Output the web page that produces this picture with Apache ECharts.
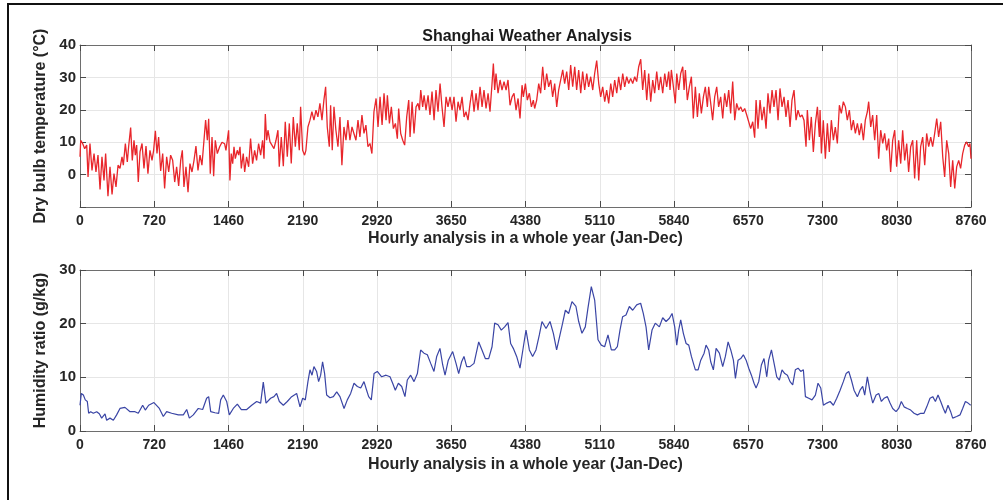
<!DOCTYPE html>
<html>
<head>
<meta charset="utf-8">
<script src="https://cdn.jsdelivr.net/npm/echarts@6/dist/echarts.min.js"></script>
<style>
html,body{margin:0;padding:0;background:#fff;}
#chart{width:1003px;height:500px;}
</style>
</head>
<body>
<div id="chart"></div>
<script>
// ---- Data ----
var xTickLabels = ['0','720','1460','2190','2920','3650','4380','5110','5840','6570','7300','8030','8760'];
var tempTickLabels = ['', '0', '10', '20', '30', '40'];
var humTickLabels = ['0', '10', '20', '30'];

// Dry bulb temperature (°C): [hour, value]
var tempPoints = [
[0,5.5],[7,10.6],[26,9.6],[46,8.0],[66,9.1],[79,-0.7],[98,9.6],[118,1.3],[138,6.5],[157,0.8],
[177,6.0],[197,-4.6],[216,5.5],[236,-1.8],[252,6.5],[275,-6.7],[295,2.4],[315,-6.1],[334,0.3],[354,-3.8],
[374,2.9],[393,1.9],[413,5.5],[426,2.9],[446,9.6],[465,3.9],[478,8.6],[498,14.5],[514,4.4],[531,10.6],
[544,6.0],[557,9.1],[573,-2.3],[590,7.0],[610,9.6],[629,1.9],[649,8.8],[668,0.3],[688,7.5],[708,4.4],
[724,7.5],[741,13.5],[757,6.5],[773,11.6],[793,1.1],[813,6.5],[832,-4.3],[852,5.5],[872,0.8],[891,6.0],
[911,4.4],[931,-2.3],[950,2.4],[970,-3.5],[990,4.4],[1006,7.5],[1022,-3.8],[1042,2.4],[1062,-5.4],[1081,3.4],
[1101,0.8],[1121,4.4],[1140,8.8],[1160,1.3],[1180,6.0],[1199,2.9],[1219,10.6],[1235,16.8],[1252,10.6],[1265,17.2],
[1281,0.3],[1298,11.6],[1314,-0.5],[1330,10.6],[1350,6.5],[1373,8.6],[1396,10.0],[1422,9.5],[1435,7.5],[1448,10.6],
[1461,13.7],[1474,-1.8],[1487,6.5],[1501,3.4],[1514,8.6],[1527,4.9],[1546,7.5],[1560,6.0],[1573,8.6],[1586,1.9],
[1605,6.5],[1619,0.8],[1638,5.5],[1658,2.4],[1677,11.1],[1697,3.4],[1717,7.5],[1736,4.4],[1756,9.6],[1776,6.0],
[1795,10.6],[1809,4.9],[1822,18.7],[1835,10.6],[1848,13.7],[1868,10.1],[1887,9.6],[1907,8.0],[1927,10.6],[1946,13.7],
[1959,2.4],[1979,11.6],[1999,2.6],[2018,16.3],[2038,5.5],[2058,15.8],[2077,3.4],[2097,17.8],[2117,8.6],[2136,15.8],
[2156,7.5],[2169,20.9],[2189,7.5],[2208,6.0],[2221,7.5],[2241,14.7],[2261,16.8],[2280,19.4],[2300,16.8],[2320,19.9],
[2339,17.8],[2359,22.0],[2379,16.8],[2398,23.0],[2415,27.1],[2431,14.7],[2451,8.6],[2464,21.4],[2480,7.5],[2497,20.9],
[2516,13.7],[2536,8.6],[2556,17.8],[2575,2.9],[2595,14.7],[2615,10.6],[2634,16.8],[2654,10.6],[2674,14.7],[2693,12.7],
[2713,10.6],[2733,16.8],[2752,11.6],[2772,18.4],[2792,12.7],[2811,15.3],[2831,8.6],[2851,9.6],[2870,6.5],[2890,19.4],
[2911,23.5],[2930,14.7],[2950,24.0],[2970,15.3],[2989,25.1],[3009,16.8],[3022,24.5],[3042,15.8],[3061,20.9],[3081,14.2],
[3101,15.8],[3120,11.1],[3133,20.4],[3153,12.7],[3173,10.6],[3192,9.1],[3212,17.8],[3232,23.0],[3245,11.6],[3265,22.5],
[3284,12.7],[3304,20.9],[3323,22.0],[3337,19.9],[3350,26.1],[3369,20.9],[3383,24.5],[3402,19.9],[3422,24.5],[3441,18.4],
[3461,25.6],[3481,16.8],[3500,26.1],[3520,19.4],[3540,28.1],[3559,20.9],[3579,14.7],[3599,24.0],[3618,20.9],[3638,24.0],
[3658,19.9],[3677,24.0],[3697,16.3],[3717,22.5],[3736,19.9],[3756,24.0],[3776,17.8],[3795,19.4],[3815,16.8],[3835,22.0],
[3854,26.1],[3874,19.4],[3894,25.1],[3913,19.9],[3933,27.1],[3953,20.9],[3972,26.1],[3992,20.4],[4012,25.1],[4031,19.4],
[4051,28.1],[4064,34.3],[4077,26.1],[4090,31.2],[4110,25.1],[4130,29.2],[4149,26.1],[4169,28.7],[4189,26.1],[4208,29.2],
[4228,21.4],[4248,24.0],[4267,25.1],[4287,19.9],[4307,23.5],[4326,17.3],[4346,27.6],[4359,24.0],[4379,28.1],[4398,23.0],
[4418,25.1],[4438,20.9],[4457,23.0],[4470,20.4],[4490,23.0],[4510,28.1],[4529,25.1],[4549,33.3],[4569,26.1],[4588,31.2],
[4608,27.1],[4628,29.2],[4647,24.0],[4667,28.1],[4687,20.9],[4706,26.1],[4726,29.2],[4746,32.3],[4765,28.1],[4785,31.8],
[4805,26.1],[4824,33.8],[4844,27.1],[4864,33.3],[4883,26.1],[4903,32.3],[4923,25.1],[4942,31.8],[4962,26.1],[4982,31.2],
[5001,27.1],[5021,30.2],[5041,26.1],[5060,31.2],[5080,35.2],[5100,28.1],[5119,24.0],[5139,27.1],[5159,22.5],[5178,26.1],
[5198,22.0],[5218,28.1],[5237,24.0],[5257,29.2],[5277,25.1],[5296,30.2],[5316,26.1],[5336,31.2],[5355,27.1],[5375,30.2],
[5395,28.1],[5414,29.7],[5434,28.1],[5454,30.2],[5473,28.7],[5493,33.3],[5513,35.6],[5532,26.1],[5552,32.3],[5572,23.0],
[5591,31.2],[5611,22.5],[5631,29.2],[5650,25.1],[5670,31.8],[5690,26.1],[5709,30.2],[5729,25.1],[5749,31.2],[5768,27.1],
[5788,31.8],[5801,26.1],[5814,32.3],[5834,27.1],[5853,22.0],[5867,31.2],[5886,26.1],[5906,31.2],[5926,33.3],[5939,26.1],
[5952,32.3],[5971,23.0],[5991,27.1],[6011,30.2],[6030,17.3],[6050,27.1],[6070,17.8],[6089,25.1],[6109,18.9],[6129,24.0],
[6148,27.1],[6168,20.9],[6181,27.1],[6201,22.0],[6220,16.8],[6240,24.0],[6260,27.1],[6279,20.9],[6299,24.0],[6319,17.3],
[6338,25.1],[6358,20.9],[6378,26.1],[6397,18.9],[6417,28.7],[6437,16.8],[6456,22.0],[6476,19.9],[6496,20.9],[6515,19.4],
[6535,20.4],[6555,18.4],[6574,17.8],[6594,14.2],[6614,16.3],[6633,11.4],[6647,23.0],[6666,14.2],[6686,23.0],[6705,16.8],
[6725,20.9],[6745,14.2],[6764,25.1],[6784,18.9],[6804,26.1],[6823,20.9],[6843,26.1],[6863,16.8],[6882,26.6],[6902,20.9],
[6922,24.0],[6941,17.8],[6961,23.0],[6981,14.7],[7000,23.0],[7020,26.1],[7040,16.8],[7059,19.9],[7079,17.8],[7099,18.4],
[7118,16.8],[7138,8.6],[7151,19.9],[7171,10.6],[7190,17.8],[7210,7.0],[7230,15.8],[7250,20.9],[7269,11.6],[7276,19.9],
[7289,6.5],[7308,16.8],[7328,4.9],[7348,15.8],[7367,7.0],[7387,16.8],[7407,10.6],[7426,14.7],[7446,9.6],[7466,21.4],
[7485,18.9],[7505,22.5],[7525,20.9],[7544,16.8],[7564,19.9],[7584,13.7],[7603,16.8],[7623,12.7],[7643,15.8],[7662,12.2],
[7682,15.8],[7702,10.6],[7721,16.8],[7741,19.4],[7754,22.5],[7774,14.7],[7793,18.4],[7813,10.6],[7833,18.4],[7852,4.9],
[7872,13.7],[7892,9.6],[7911,12.7],[7931,7.5],[7951,11.1],[7970,0.8],[7990,10.6],[8010,13.7],[8029,2.4],[8049,10.6],
[8069,3.4],[8088,13.7],[8108,4.4],[8128,9.6],[8147,0.8],[8167,8.6],[8187,10.6],[8206,-1.2],[8226,10.6],[8246,-1.8],
[8265,8.6],[8285,11.6],[8305,2.9],[8324,12.7],[8344,8.6],[8364,11.6],[8383,8.6],[8403,12.7],[8423,17.3],[8442,11.6],
[8462,16.3],[8482,5.5],[8501,-0.7],[8521,10.6],[8541,6.5],[8560,-3.8],[8580,4.4],[8600,-4.3],[8619,2.4],[8639,4.4],
[8658,1.9],[8678,6.5],[8698,9.1],[8717,10.1],[8737,8.6],[8750,9.6],[8760,4.9]
];

// Humidity ratio (g/kg): [hour, value]
var humPoints = [
[0,4.8],[13,7.0],[33,6.7],[52,5.8],[72,5.5],[85,3.3],[105,3.6],[131,3.3],[164,3.6],[190,3.2],
[213,2.4],[246,3.2],[262,2.0],[295,2.4],[328,2.0],[360,3.0],[393,4.2],[442,4.4],[492,3.6],[541,3.6],
[573,3.3],[616,4.8],[642,3.9],[675,4.8],[727,5.3],[780,4.2],[819,2.7],[852,3.6],[901,3.3],[967,3.0],
[1016,3.0],[1049,4.0],[1075,2.4],[1114,3.0],[1163,4.2],[1206,4.0],[1245,6.1],[1265,6.4],[1285,3.6],[1327,3.4],
[1363,3.3],[1383,5.8],[1409,6.7],[1442,5.5],[1468,3.0],[1507,4.2],[1547,5.0],[1586,4.0],[1639,4.0],[1688,4.8],
[1737,5.5],[1776,5.2],[1802,9.1],[1829,5.2],[1874,6.1],[1907,6.4],[1933,7.0],[1960,5.5],[1999,4.8],[2038,5.5],
[2081,6.4],[2130,7.0],[2163,4.5],[2189,6.1],[2215,5.8],[2241,9.2],[2261,11.4],[2281,10.4],[2300,12.0],[2326,11.1],
[2346,9.2],[2366,10.4],[2385,12.9],[2405,10.7],[2425,6.7],[2458,6.2],[2491,6.4],[2524,7.3],[2556,6.4],[2596,4.2],
[2628,5.8],[2661,7.0],[2694,8.9],[2727,8.3],[2760,8.0],[2792,9.2],[2818,7.6],[2838,6.4],[2864,5.8],[2891,10.7],
[2923,11.1],[2966,10.1],[3009,10.4],[3048,10.1],[3074,8.9],[3100,7.6],[3130,8.9],[3163,8.3],[3195,6.4],[3218,9.5],
[3251,10.4],[3284,9.2],[3317,10.7],[3349,15.1],[3382,14.5],[3415,14.2],[3448,12.6],[3480,11.1],[3507,13.9],[3539,15.4],
[3566,12.3],[3589,10.4],[3621,13.2],[3664,14.8],[3697,12.6],[3723,10.7],[3752,12.9],[3775,13.9],[3802,12.0],[3834,12.0],
[3874,12.6],[3920,16.6],[3952,15.1],[3985,13.5],[4018,13.5],[4051,15.7],[4077,20.1],[4110,19.8],[4142,18.8],[4175,19.4],
[4208,20.2],[4234,16.3],[4260,15.4],[4293,13.9],[4326,11.7],[4359,15.7],[4385,18.8],[4418,15.1],[4450,13.9],[4483,15.1],
[4516,17.9],[4542,20.4],[4582,19.1],[4621,20.4],[4654,18.2],[4686,15.1],[4719,17.9],[4745,20.1],[4772,22.5],[4804,21.9],
[4837,24.1],[4876,23.2],[4903,20.4],[4935,18.2],[4968,19.4],[4994,22.9],[5027,26.9],[5060,24.4],[5093,17.0],[5125,16.0],
[5158,15.7],[5191,17.9],[5224,15.1],[5257,15.1],[5283,15.7],[5309,18.8],[5335,21.3],[5368,21.6],[5401,23.2],[5434,22.5],
[5473,23.5],[5512,23.8],[5538,21.9],[5565,19.4],[5591,15.1],[5624,18.8],[5656,20.1],[5696,19.4],[5729,21.1],[5762,20.4],
[5795,21.0],[5821,21.9],[5847,19.4],[5867,16.0],[5886,18.8],[5906,20.7],[5932,18.2],[5959,16.3],[5985,16.0],[6011,13.9],
[6031,12.6],[6050,11.4],[6077,11.4],[6103,13.2],[6136,14.5],[6155,16.0],[6181,15.1],[6201,12.9],[6227,11.4],[6254,15.4],
[6286,14.5],[6319,12.0],[6345,13.9],[6372,16.6],[6398,15.1],[6424,13.2],[6444,9.8],[6470,13.2],[6496,13.5],[6522,14.2],
[6549,13.2],[6575,11.7],[6601,10.4],[6627,8.9],[6647,8.0],[6673,9.2],[6699,12.3],[6725,13.5],[6752,10.1],[6771,13.2],
[6798,15.1],[6824,12.6],[6850,10.1],[6876,9.5],[6902,11.4],[6929,10.7],[6955,10.4],[6981,9.2],[7007,8.6],[7033,11.4],
[7060,11.7],[7086,11.1],[7112,11.4],[7132,6.4],[7165,6.1],[7197,5.8],[7230,6.7],[7256,8.9],[7283,8.0],[7309,4.8],
[7342,5.2],[7375,5.5],[7407,4.8],[7440,6.1],[7473,7.6],[7505,9.2],[7532,10.7],[7558,11.1],[7584,9.5],[7610,7.6],
[7643,6.4],[7669,7.6],[7695,8.3],[7715,6.7],[7741,10.1],[7768,7.3],[7794,5.2],[7827,6.7],[7853,7.0],[7879,5.5],
[7905,6.1],[7938,6.4],[7964,5.2],[7990,4.2],[8023,3.6],[8049,4.2],[8075,5.5],[8102,4.5],[8134,4.2],[8167,3.9],
[8200,3.3],[8233,3.0],[8266,3.3],[8298,3.3],[8325,4.5],[8357,6.1],[8384,6.4],[8410,5.5],[8436,6.7],[8462,5.5],
[8488,4.2],[8508,3.3],[8534,4.8],[8560,3.6],[8580,2.4],[8619,2.7],[8652,3.0],[8678,4.2],[8705,5.5],[8731,5.2],
[8757,4.8]
];

// ---- Chart ----
var FONT = "'Liberation Sans', Arial, Helvetica, sans-serif";
var TXT = '#262626';
var BOX = '#6e6e6e';
var GRIDC = '#e6e6e6';
var TICKC = '#4a4a4a';

function xAxisMain(gi, gap) {
  return {
    type: 'value', gridIndex: gi, min: 0, max: 8760, interval: 730, position: 'bottom',
    name: 'Hourly analysis in a whole year (Jan-Dec)', nameLocation: 'middle', nameGap: gap,
    nameTextStyle: { fontFamily: FONT, fontWeight: 'bold', fontSize: 16, color: TXT },
    axisLine: { show: true, onZero: false, lineStyle: { color: BOX, width: 1 } },
    axisTick: { show: true, inside: true, length: 6, lineStyle: { color: TICKC } },
    axisLabel: { show: true, margin: 7, fontFamily: FONT, fontWeight: 'bold', fontSize: 14, color: TXT,
      showMinLabel: true, showMaxLabel: true,
      formatter: function (v) { return xTickLabels[Math.round(v / 730)]; } },
    splitLine: { show: true, lineStyle: { color: GRIDC, width: 1 } }
  };
}
function xAxisTop(gi) {
  return {
    type: 'value', gridIndex: gi, min: 0, max: 8760, interval: 730, position: 'top',
    axisLine: { show: true, onZero: false, lineStyle: { color: BOX, width: 1 } },
    axisTick: { show: true, inside: true, length: 6, lineStyle: { color: TICKC } },
    axisLabel: { show: false }, splitLine: { show: false }
  };
}
function yAxisMain(gi, min, max, name, labels, gap) {
  return {
    type: 'value', gridIndex: gi, min: min, max: max, interval: 10, position: 'left',
    name: name, nameLocation: 'middle', nameGap: gap, nameRotate: 90,
    nameTextStyle: { fontFamily: FONT, fontWeight: 'bold', fontSize: 16, color: TXT },
    axisLine: { show: true, onZero: false, lineStyle: { color: BOX, width: 1 } },
    axisTick: { show: true, inside: true, length: 6, lineStyle: { color: TICKC } },
    axisLabel: { show: true, margin: 4, fontFamily: FONT, fontWeight: 'bold', fontSize: 15, color: TXT,
      showMinLabel: true, showMaxLabel: true,
      formatter: function (v) { return labels[Math.round((v - min) / 10)]; } },
    splitLine: { show: true, lineStyle: { color: GRIDC, width: 1 } }
  };
}
function yAxisRight(gi, min, max) {
  return {
    type: 'value', gridIndex: gi, min: min, max: max, interval: 10, position: 'right',
    axisLine: { show: true, onZero: false, lineStyle: { color: BOX, width: 1 } },
    axisTick: { show: true, inside: true, length: 6, lineStyle: { color: TICKC } },
    axisLabel: { show: false }, splitLine: { show: false }
  };
}

var chart = echarts.init(document.getElementById('chart'), null, { renderer: 'canvas' });
chart.setOption({
  animation: false,
  backgroundColor: '#ffffff',
  title: {
    text: 'Shanghai Weather Analysis', left: 522, top: 24, textAlign: 'center',
    textStyle: { fontFamily: FONT, fontWeight: 'bold', fontSize: 16, color: '#1a1a1a' }
  },
  graphic: [
    { type: 'line', shape: { x1: 8, y1: 4, x2: 8, y2: 500 }, style: { stroke: '#111', lineWidth: 2 } },
    { type: 'line', shape: { x1: 7, y1: 4, x2: 1003, y2: 4 }, style: { stroke: '#111', lineWidth: 2 } }
  ],
  grid: [
    { left: 80, top: 45, width: 891, height: 162 },
    { left: 80, top: 270, width: 891, height: 161 }
  ],
  xAxis: [xAxisMain(0, 24), xAxisTop(0), xAxisMain(1, 26), xAxisTop(1)],
  yAxis: [
    yAxisMain(0, -10, 40, 'Dry bulb temperature (°C)', tempTickLabels, 30),
    yAxisRight(0, -10, 40),
    yAxisMain(1, 0, 30, 'Humidity ratio (g/kg)', humTickLabels, 30),
    yAxisRight(1, 0, 30)
  ],
  series: [
    { type: 'line', xAxisIndex: 0, yAxisIndex: 0, data: tempPoints, showSymbol: false, symbol: 'none',
      lineStyle: { color: '#e8262b', width: 1.3 }, silent: true },
    { type: 'line', xAxisIndex: 2, yAxisIndex: 2, data: humPoints, showSymbol: false, symbol: 'none',
      lineStyle: { color: '#3a45a5', width: 1.2 }, silent: true }
  ]
});
</script>
</body>
</html>
